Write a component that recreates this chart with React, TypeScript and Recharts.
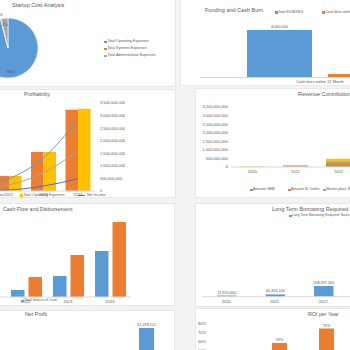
import React from 'react';
import { BarChart, Bar, ComposedChart, Line, XAxis, YAxis, PieChart, Pie, Cell, LabelList } from 'recharts';

const BLUE = '#5B9BD5';
const ORANGE = '#ED7D31';
const GRAY = '#A5A5A5';
const YELLOW = '#FFC000';
const DARK = '#4472C4';
const GREEN = '#70AD47';
const TEXT = '#595959';
const AXIS = '#d9d9d9';
const FONT = "'Liberation Sans', Arial, sans-serif";

// Startup cost analysis (percent of total)
const costNames = ['Total Operating Expenses', 'Total Systems Expenses', 'Total Administration Expenses'];
const costShares = [96.0, 0.3, 3.7];
const costColors = [BLUE, ORANGE, GRAY];

// Funding and cash burn
const fundingCategories = ['Cash burn within 12 Month'];
const totalFunding = [4000000];
const cashBurn = [300000];

// Profitability
const profitYears = ['2021', '2022', '2023', '2024'];
const grossSales = [150000000, 600000000, 1550000000, 3230000000];
const operatingExpenses = [150000000, 600000000, 1550000000, 3270000000];
const grossProfit = [100000000, 480000000, 1310000000, 2830000000];
const ebitda = [50000000, 240000000, 720000000, 1590000000];
const netIncome = [10000000, 40000000, 200000000, 480000000];

// Revenue contribution
const revenueYears = ['2020', '2021', '2022', '2023'];
const amazonSme = [6000000, 25000000, 110000000, 700000000];
const amazonOutlet = [8000000, 30000000, 120000000, 800000000];
const marketplace = [7000000, 30000000, 110000000, 750000000];
const otherChannels = [9000000, 35000000, 140000000, 900000000];

// Cash flow and disbursement
const cashYears = ['2021', '2022', '2023', '2024'];
const sourceOfCash = [20000000, 70000000, 210000000, 460000000];
const disbursement = [70000000, 200000000, 420000000, 750000000];

// Long term borrowing
const borrowYears = ['2020', '2021', '2022', '2023'];
const borrowing = [11910000, 44433100, 208337500, 1250000000];

// Net profit
const netYears = ['2021', '2022', '2023', '2024'];
const netProfit = [2150000, 8400000, 24600000, 61078511];

// ROI per year
const roiYears = ['2021', '2022', '2023'];
const roi = [0.31, 0.59, 0.75];

const billionTicks = [0, 500000000, 1000000000, 1500000000, 2000000000, 2500000000, 3000000000, 3500000000];
const roiTicks = [0, 0.1, 0.2, 0.3, 0.4, 0.5, 0.6, 0.7, 0.8];

const fmt = (v: any) => Number(v).toLocaleString('en-US');
const pct = (v: any) => `${Math.round(Number(v) * 100)}%`;
const tick = { fill: TEXT, fontSize: 4, fontFamily: FONT };

const costData = costNames.map((name, i) => ({ name, value: costShares[i] }));
const fundingData = fundingCategories.map((name, i) => ({ name, funding: totalFunding[i], burn: cashBurn[i] }));
const profitData = profitYears.map((year, i) => ({
  year, sales: grossSales[i], opex: operatingExpenses[i], gross: grossProfit[i], ebitda: ebitda[i], net: netIncome[i],
}));
const revenueData = revenueYears.map((year, i) => ({
  year, sme: amazonSme[i], outlet: amazonOutlet[i], market: marketplace[i], other: otherChannels[i],
}));
const cashData = cashYears.map((year, i) => ({ year, source: sourceOfCash[i], out: disbursement[i] }));
const borrowData = borrowYears.map((year, i) => ({ year, value: borrowing[i] }));
const netData = netYears.map((year, i) => ({ year, value: netProfit[i] }));
const roiData = roiYears.map((year, i) => ({ year, value: roi[i] }));

const Box = ({ x, y, w, h, children }: any) => (
  <div style={{ position: 'absolute', left: x, top: y, width: w, height: h }}>{children}</div>
);

const Panel = ({ x, y, w, h }: any) => (
  <div style={{ position: 'absolute', left: x, top: y, width: w, height: h, background: '#fff', border: '1px solid #e8e8e8', boxSizing: 'border-box' }} />
);

const T = ({ x, y, size = 4, children, color = TEXT }: any) => (
  <div style={{ position: 'absolute', left: x, top: y, transform: 'translateY(-50%)', fontSize: size, lineHeight: 1, color, whiteSpace: 'nowrap', fontFamily: FONT }}>
    {children}
  </div>
);

const Sq = ({ x, y, color, line }: any) => (
  <div style={{ position: 'absolute', left: x, top: line ? y - 0.5 : y - 1.3, width: line ? 7 : 2.6, height: line ? 1.2 : 2.6, background: color }} />
);

const renderPieLabel = ({ cx, cy, midAngle, outerRadius, percent }: any) => {
  const r = percent < 0.01 ? outerRadius + 4 : outerRadius * 0.8;
  const rad = Math.PI / 180;
  const x = cx + r * Math.cos(-midAngle * rad);
  const y = cy + r * Math.sin(-midAngle * rad);
  return (
    <text x={x} y={y} fill={TEXT} fontSize={4} fontFamily={FONT} textAnchor="middle" dominantBaseline="central">
      {`${Math.round(percent * 100)}%`}
    </text>
  );
};

export default function App() {
  return (
    <div style={{ position: 'absolute', left: 0, top: 0, width: 350, height: 350, overflow: 'hidden', background: '#f3f3f3', fontFamily: FONT }}>
      <Panel x={-2} y={-2} w={178} h={89} />
      <Panel x={180} y={-2} w={175} h={88} />
      <Panel x={-2} y={89} w={178} h={109} />
      <Panel x={195} y={88} w={160} h={110} />
      <Panel x={-2} y={203} w={177} h={103} />
      <Panel x={195} y={203} w={160} h={104} />
      <Panel x={-2} y={310} w={177} h={50} />
      <Panel x={195} y={308} w={160} h={50} />

      {/* Startup Cost Analysis */}
      <T x={12} y={6} size={5.5}>Startup Cost Analysis</T>
      <Box x={-40} y={8} w={96} h={80}>
        <PieChart width={96} height={80} margin={{ top: 0, right: 0, bottom: 0, left: 0 }}>
          <Pie data={costData} dataKey="value" cx={48} cy={40} outerRadius={30} startAngle={90} endAngle={-270}
            stroke="#fff" strokeWidth={0.6} label={renderPieLabel} labelLine={false} isAnimationActive={false}>
            {costData.map((d, i) => <Cell key={d.name} fill={costColors[i]} />)}
          </Pie>
        </PieChart>
      </Box>
      {costNames.map((n, i) => (
        <React.Fragment key={n}>
          <Sq x={104} y={42 + i * 7} color={costColors[i]} />
          <T x={107.5} y={42 + i * 7} size={3.6}>{n}</T>
        </React.Fragment>
      ))}

      {/* Funding and Cash Burn */}
      <T x={205} y={11} size={5.5}>Funding and Cash Burn</T>
      <Sq x={275} y={12.5} color={BLUE} />
      <T x={278} y={12.5} size={3.6}>Total FUNDING</T>
      <Sq x={322} y={12.5} color={ORANGE} />
      <T x={325} y={12.5} size={3.6}>Cash Burn within 12 Month</T>
      <Box x={200} y={0} w={240} h={88}>
        <BarChart width={240} height={88} data={fundingData} margin={{ top: 30, right: 0, bottom: 0, left: 0 }} barGap={16}>
          <XAxis dataKey="name" height={10.5} tick={tick} tickSize={0} tickMargin={2.5} stroke={AXIS} interval={0} />
          <YAxis hide domain={[0, 4000000]} />
          <Bar dataKey="funding" fill={BLUE} barSize={65} isAnimationActive={false}>
            <LabelList dataKey="funding" position="top" formatter={fmt} fill={TEXT} fontSize={3.8} offset={2} />
          </Bar>
          <Bar dataKey="burn" fill={ORANGE} barSize={65} isAnimationActive={false}>
            <LabelList dataKey="burn" position="top" formatter={fmt} fill={TEXT} fontSize={3.8} offset={2} />
          </Bar>
        </BarChart>
      </Box>

      {/* Profitability */}
      <T x={24} y={95} size={5.3}>Profitability</T>
      <Box x={-43} y={89} w={168} h={109}>
        <ComposedChart width={168} height={109} data={profitData} margin={{ top: 14, right: 0, bottom: 0, left: 0 }} barGap={0}>
          <XAxis dataKey="year" height={7} tick={tick} tickSize={0} tickMargin={2} stroke={AXIS} interval={0} />
          <YAxis orientation="right" width={30} domain={[0, 3500000000]} ticks={billionTicks} interval={0}
            tickFormatter={fmt} tick={tick} tickSize={0} tickMargin={5} axisLine={false} tickLine={false} />
          <Bar dataKey="sales" fill={ORANGE} barSize={12.5} isAnimationActive={false} />
          <Bar dataKey="opex" fill={YELLOW} barSize={12.5} isAnimationActive={false} />
          <Line type="monotone" dataKey="gross" stroke={BLUE} strokeWidth={1} dot={false} isAnimationActive={false} />
          <Line type="monotone" dataKey="ebitda" stroke={GRAY} strokeWidth={1} dot={false} isAnimationActive={false} />
          <Line type="monotone" dataKey="net" stroke={DARK} strokeWidth={1} dot={false} isAnimationActive={false} />
        </ComposedChart>
      </Box>
      <Sq x={-27} y={195.7} color={ORANGE} />
      <T x={-24} y={195.7} size={3.6}>Total Gross Sales</T>
      <Sq x={20} y={195.7} color={YELLOW} />
      <T x={23.5} y={195.7} size={3.6}>Total Operating Expenses</T>
      <Sq x={78} y={195.7} color={DARK} line />
      <T x={87} y={195.7} size={3.6}>Net Income</T>

      {/* Revenue Contribution */}
      <T x={298} y={95} size={5.5}>Revenue Contribution</T>
      <Box x={195} y={88} w={208} h={87}>
        <BarChart width={208} height={87} data={revenueData} margin={{ top: 19, right: 0, bottom: 0, left: 0 }}>
          <XAxis dataKey="year" height={8} tick={tick} tickSize={0} tickMargin={3} stroke={AXIS} interval={0} />
          <YAxis width={36} domain={[0, 3500000000]} ticks={billionTicks} interval={0}
            tickFormatter={fmt} tick={tick} tickSize={0} tickMargin={3} axisLine={false} tickLine={false} />
          <Bar dataKey="sme" stackId="a" fill={GREEN} barSize={25} isAnimationActive={false} />
          <Bar dataKey="outlet" stackId="a" fill={ORANGE} barSize={25} isAnimationActive={false} />
          <Bar dataKey="market" stackId="a" fill={GRAY} barSize={25} isAnimationActive={false} />
          <Bar dataKey="other" stackId="a" fill={YELLOW} barSize={25} isAnimationActive={false} />
        </BarChart>
      </Box>
      <Sq x={250} y={190} color={GREEN} />
      <T x={253} y={190} size={3.6}>Amazon SME</T>
      <Sq x={288} y={190} color={ORANGE} />
      <T x={291} y={190} size={3.6}>Amazon B. Outlet</T>
      <Sq x={323} y={190} color={GRAY} />
      <T x={326} y={190} size={3.6}>Market place Sales</T>

      {/* Cash Flow and Disbursement */}
      <T x={3} y={210} size={5.3}>Cash Flow and Disbursement</T>
      <Box x={-37} y={203} w={168} h={102}>
        <BarChart width={168} height={102} data={cashData} margin={{ top: 14, right: 0, bottom: 0, left: 0 }} barGap={4}>
          <XAxis dataKey="year" height={8} tick={tick} tickSize={0} tickMargin={3} stroke={AXIS} interval={0} />
          <YAxis hide domain={[0, 800000000]} />
          <Bar dataKey="source" fill={BLUE} barSize={13.5} isAnimationActive={false} />
          <Bar dataKey="out" fill={ORANGE} barSize={13.5} isAnimationActive={false} />
        </BarChart>
      </Box>
      <Sq x={21} y={301} color={BLUE} />
      <T x={24} y={301} size={3.6}>Total Source of Cash</T>

      {/* Long Term Borrowing */}
      <T x={272} y={209.5} size={5.5}>Long Term Borrowing Required: Source</T>
      <Sq x={289} y={216} color={BLUE} />
      <T x={292} y={216} size={3.4}>Long Term Borrowing Required: Source of Fund</T>
      <Box x={202} y={203} w={194} h={103}>
        <BarChart width={194} height={103} data={borrowData} margin={{ top: 22, right: 0, bottom: 0, left: 0 }}>
          <XAxis dataKey="year" height={9.3} tick={tick} tickSize={0} tickMargin={3} stroke={AXIS} interval={0} />
          <YAxis hide domain={[0, 1400000000]} />
          <Bar dataKey="value" fill={BLUE} barSize={19.5} minPointSize={1.2} isAnimationActive={false}>
            <LabelList dataKey="value" position="top" formatter={fmt} fill={TEXT} fontSize={3.8} offset={2} />
          </Bar>
        </BarChart>
      </Box>

      {/* Net Profit */}
      <T x={25} y={315} size={5.3}>Net Profit</T>
      <Box x={-1.5} y={310} w={168} h={120}>
        <BarChart width={168} height={120} data={netData} margin={{ top: 4.6, right: 0, bottom: 0, left: 0 }}>
          <XAxis dataKey="year" height={10} tick={tick} tickSize={0} tickMargin={3} stroke={AXIS} interval={0} />
          <YAxis hide domain={[0, 70000000]} />
          <Bar dataKey="value" fill={BLUE} barSize={15} isAnimationActive={false}>
            <LabelList dataKey="value" position="top" formatter={fmt} fill={TEXT} fontSize={3.8} offset={2} />
          </Bar>
        </BarChart>
      </Box>

      {/* ROI per Year */}
      <T x={308} y={315} size={5.3}>ROI per Year</T>
      <Box x={195} y={308} w={155} h={98}>
        <BarChart width={155} height={98} data={roiData} margin={{ top: 16, right: 0, bottom: 0, left: 0 }}>
          <XAxis dataKey="year" height={10} tick={tick} tickSize={0} tickMargin={3} stroke={AXIS} interval={0} />
          <YAxis width={14} domain={[0, 0.8]} ticks={roiTicks} interval={0}
            tickFormatter={pct} tick={tick} tickSize={0} tickMargin={3} axisLine={false} tickLine={false} />
          <Bar dataKey="value" fill={ORANGE} barSize={15} isAnimationActive={false}>
            <LabelList dataKey="value" position="top" formatter={pct} fill={TEXT} fontSize={3.8} offset={2} />
          </Bar>
        </BarChart>
      </Box>
    </div>
  );
}
